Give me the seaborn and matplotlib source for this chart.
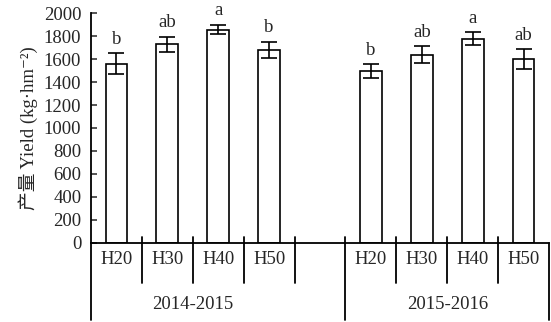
import pandas as pd
import matplotlib
matplotlib.use("Agg")
import matplotlib.pyplot as plt
import seaborn as sns

# Yield data
seasons = ["2014-2015", "2015-2016"]
treatments = ["H20", "H30", "H40", "H50"]
yield_2014 = [1562, 1730, 1858, 1680]
err_2014 = [88, 65, 40, 68]
yield_2015 = [1497, 1640, 1780, 1598]
err_2015 = [57, 72, 55, 87]
letters_2014 = ["b", "ab", "a", "b"]
letters_2015 = ["b", "ab", "a", "ab"]

rows = []
for season, vals, errs, lets in [(seasons[0], yield_2014, err_2014, letters_2014),
                                 (seasons[1], yield_2015, err_2015, letters_2015)]:
    for t, v, e, l in zip(treatments, vals, errs, lets):
        rows.append({"slot": season + " " + t, "treat": t, "season": season,
                     "yield": v, "err": e, "letter": l})
df = pd.DataFrame(rows)

# one empty slot between the two seasons
order = [seasons[0] + " " + t for t in treatments] + ["gap"] + [seasons[1] + " " + t for t in treatments]

sns.set_style("ticks")
plt.rcParams["font.family"] = ["Liberation Serif", "Noto Sans CJK SC", "DejaVu Serif"]
plt.rcParams["font.size"] = 13.5

fig = plt.figure(figsize=(5.51, 3.22), dpi=100)
ax = fig.add_axes([91 / 551, 79.3 / 322, 458 / 551, 229.4 / 322])

sns.barplot(data=df, x="slot", y="yield", order=order, color="white",
            edgecolor="black", linewidth=1.2, width=0.43, errorbar=None,
            saturation=1, ax=ax)

pos = [order.index(s) for s in df["slot"]]
ax.errorbar(pos, df["yield"], yerr=df["err"], fmt="none", ecolor="black",
            elinewidth=1.2, capsize=5.5, capthick=1.2, zorder=5)
for p, v, e, l in zip(pos, df["yield"], df["err"], df["letter"]):
    ax.annotate(l, (p, v + e), xytext=(0, 7), textcoords="offset points",
                ha="center", va="baseline", fontsize=13.5)

ax.set_xlim(-0.5, 8.5)
ax.set_ylim(0, 2000)
ax.set_yticks(range(0, 2001, 200))
ax.tick_params(axis="y", direction="in", length=4, width=1.1, labelsize=13.5, pad=7)
ax.set_xticks([])
ax.set_xlabel("")
ax.set_ylabel("产量 Yield (kg·hm⁻²)", fontsize=13.5, labelpad=4)
sns.despine(ax=ax)
for s in ["left", "bottom"]:
    ax.spines[s].set_linewidth(1.3)
    ax.spines[s].set_color("black")

# category labels and separators below the axis
tr = ax.get_xaxis_transform()
for p, t in zip(pos, df["treat"]):
    ax.text(p, -0.075, t, transform=tr, ha="center", va="center", fontsize=13.5)
for i, season in enumerate(seasons):
    ax.text(1.5 + 5 * i, -0.27, season, transform=tr, ha="center", va="center", fontsize=13.5)
for x in [0.5, 1.5, 2.5, 5.5, 6.5, 7.5, 3.5]:
    ax.plot([x, x], [0.025, -0.176], transform=tr, color="black", lw=1.3, clip_on=False)
for x in [-0.5, 4.5, 8.5]:
    top = 0.025 if x == 4.5 else 0
    ax.plot([x, x], [top, -0.337], transform=tr, color="black", lw=1.3, clip_on=False)

fig.savefig("out.png", dpi=100)
